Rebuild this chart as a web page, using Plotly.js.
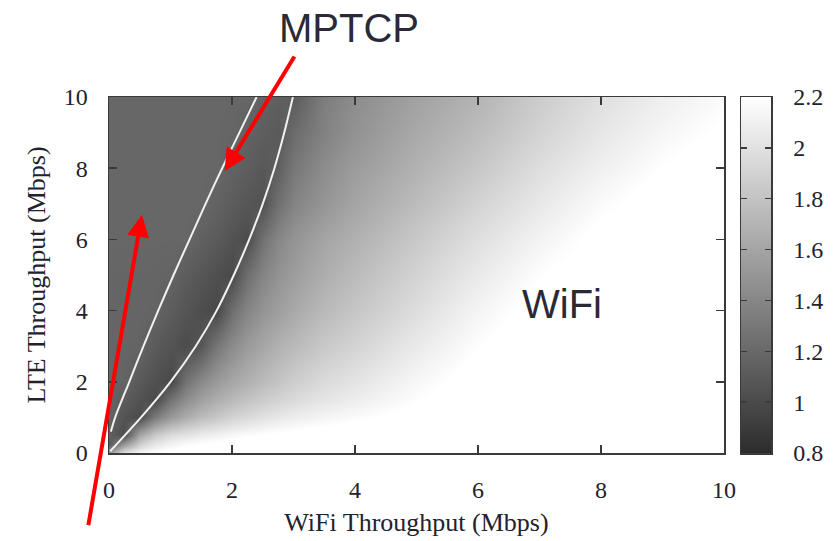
<!DOCTYPE html>
<html>
<head>
<meta charset="utf-8">
<script src="https://cdn.plot.ly/plotly-3.0.1.min.js"></script>
<style>html,body{margin:0;padding:0;background:#fff}</style>
</head>
<body>
<div id="chart" style="width:837px;height:541px"></div>
<script>
// Sample grid: WiFi throughput (columns) and LTE throughput (rows), Mbps
const wifi = [0, 0.25, 0.5, 0.75, 1, 1.25, 1.5, 1.75, 2, 2.25, 2.5, 2.75, 3, 3.5, 4, 5, 6, 7, 8, 9, 10];
const lte  = [0, 0.25, 0.5, 1, 1.5, 2, 3, 4, 5, 6, 7, 8, 9, 10];

// Normalised value at each (wifi, lte) sample, one row per LTE value
const row00  = [1.50, 2.00, 2.15, 2.20, 2.25, 2.27, 2.28, 2.29, 2.30, 2.30, 2.30, 2.30, 2.30, 2.30, 2.30, 2.30, 2.30, 2.30, 2.30, 2.30, 2.30];
const row025 = [1.10, 1.50, 1.88, 2.04, 2.12, 2.17, 2.20, 2.22, 2.24, 2.25, 2.26, 2.27, 2.28, 2.29, 2.30, 2.30, 2.30, 2.30, 2.30, 2.30, 2.30];
const row05  = [1.14, 1.02, 1.62, 1.84, 1.97, 2.02, 2.07, 2.11, 2.15, 2.18, 2.20, 2.22, 2.24, 2.26, 2.28, 2.30, 2.30, 2.30, 2.30, 2.30, 2.30];
const row1   = [1.17, 1.06, 1.00, 1.32, 1.52, 1.65, 1.75, 1.83, 1.90, 1.95, 2.00, 2.04, 2.08, 2.13, 2.17, 2.25, 2.30, 2.30, 2.30, 2.30, 2.30];
const row15  = [1.18, 1.12, 1.05, 0.99, 1.28, 1.45, 1.57, 1.66, 1.74, 1.80, 1.86, 1.91, 1.96, 2.03, 2.08, 2.19, 2.27, 2.30, 2.30, 2.30, 2.30];
const row2   = [1.18, 1.17, 1.10, 1.04, 0.99, 1.27, 1.42, 1.53, 1.61, 1.68, 1.75, 1.81, 1.87, 1.96, 2.02, 2.15, 2.25, 2.30, 2.30, 2.30, 2.30];
const row3   = [1.18, 1.18, 1.17, 1.11, 1.06, 1.01, 1.08, 1.30, 1.43, 1.53, 1.61, 1.68, 1.74, 1.84, 1.91, 2.06, 2.19, 2.28, 2.30, 2.30, 2.30];
const row4   = [1.18, 1.18, 1.18, 1.17, 1.12, 1.07, 1.02, 0.99, 1.24, 1.39, 1.49, 1.56, 1.63, 1.74, 1.82, 1.98, 2.13, 2.25, 2.30, 2.30, 2.30];
const row5   = [1.18, 1.18, 1.18, 1.18, 1.17, 1.12, 1.08, 1.03, 0.99, 1.24, 1.39, 1.48, 1.55, 1.66, 1.75, 1.91, 2.06, 2.19, 2.28, 2.30, 2.30];
const row6   = [1.19, 1.19, 1.19, 1.19, 1.19, 1.19, 1.15, 1.11, 1.06, 1.01, 1.26, 1.40, 1.49, 1.60, 1.68, 1.84, 1.99, 2.12, 2.23, 2.30, 2.30];
const row7   = [1.19, 1.19, 1.19, 1.19, 1.19, 1.19, 1.19, 1.16, 1.12, 1.08, 1.05, 1.25, 1.38, 1.50, 1.60, 1.76, 1.91, 2.05, 2.17, 2.26, 2.30];
const row8   = [1.19, 1.19, 1.19, 1.19, 1.19, 1.19, 1.19, 1.19, 1.16, 1.13, 1.09, 1.14, 1.30, 1.44, 1.54, 1.69, 1.83, 1.98, 2.10, 2.20, 2.27];
const row9   = [1.19, 1.19, 1.19, 1.19, 1.19, 1.19, 1.19, 1.19, 1.18, 1.16, 1.13, 1.10, 1.22, 1.37, 1.48, 1.63, 1.76, 1.91, 2.04, 2.14, 2.22];
const row10  = [1.19, 1.19, 1.19, 1.19, 1.19, 1.19, 1.19, 1.19, 1.19, 1.18, 1.16, 1.14, 1.12, 1.34, 1.44, 1.58, 1.70, 1.86, 1.99, 2.09, 2.17];

// Boundaries of the MPTCP region
const innerEdgeWifi = [0.03, 0.10, 0.33, 0.56, 0.80, 1.05, 1.31, 1.57, 1.84, 2.12, 2.40];
const innerEdgeLte  = [0.60, 1, 2, 3, 4, 5, 6, 7, 8, 9, 10];
const outerEdgeWifi = [0.02, 0.52, 1.00, 1.41, 1.75, 2.03, 2.28, 2.50, 2.69, 2.85, 2.99];
const outerEdgeLte  = [0.05, 1, 2, 3, 4, 5, 6, 7, 8, 9, 10];

// Scale bar end values
const scaleLevels = [0.8, 2.2];

const z = [row00, row025, row05, row1, row15, row2, row3, row4, row5, row6, row7, row8, row9, row10];
const grays = [[0, 'rgb(44,44,44)'], [1, 'rgb(255,255,255)']];

const serif = 'Liberation Serif, Times New Roman, serif';
const sans = 'Liberation Sans, Arial, sans-serif';
const inkDark = '#22222c';
const frame = '#3a3a3a';

const traces = [
  {
    type: 'heatmap', x: wifi, y: lte, z: z,
    zmin: scaleLevels[0], zmax: scaleLevels[1],
    colorscale: grays, zsmooth: 'best', showscale: false, hoverinfo: 'skip'
  },
  {
    type: 'scatter', mode: 'lines', x: innerEdgeWifi, y: innerEdgeLte,
    line: {color: 'rgb(242,242,242)', width: 2, shape: 'spline', smoothing: 0.8}, hoverinfo: 'skip'
  },
  {
    type: 'scatter', mode: 'lines', x: outerEdgeWifi, y: outerEdgeLte,
    line: {color: 'rgb(242,242,242)', width: 2, shape: 'spline', smoothing: 0.8}, hoverinfo: 'skip'
  },
  {
    // gray scale bar
    type: 'heatmap', x: [0, 1], y: scaleLevels, z: scaleLevels.map(v => [v, v]),
    zmin: scaleLevels[0], zmax: scaleLevels[1],
    colorscale: grays, zsmooth: 'best', showscale: false, hoverinfo: 'skip',
    xaxis: 'x2', yaxis: 'y2'
  }
];

const axisCommon = {
  ticks: 'inside', ticklen: 8, tickwidth: 1.5, tickcolor: frame,
  showline: true, linecolor: frame, linewidth: 1.5, mirror: 'ticks',
  showgrid: false, zeroline: false, fixedrange: true,
  tickfont: {family: serif, size: 24, color: inkDark}
};

const layout = {
  width: 837, height: 541,
  margin: {l: 0, r: 0, t: 0, b: 0},
  paper_bgcolor: '#fff', plot_bgcolor: '#fff',
  showlegend: false,
  xaxis: Object.assign({}, axisCommon, {
    domain: [109 / 837, 724 / 837], range: [0, 10], dtick: 2, tick0: 0,
    ticklabelstandoff: 15,
    title: {text: 'WiFi Throughput (Mbps)', font: {family: serif, size: 26, color: inkDark}, standoff: 10}
  }),
  yaxis: Object.assign({}, axisCommon, {
    domain: [88 / 541, 444 / 541], range: [0, 10], dtick: 2, tick0: 0,
    ticklabelstandoff: 15,
    title: {text: 'LTE Throughput (Mbps)', font: {family: serif, size: 26, color: inkDark}, standoff: 10}
  }),
  xaxis2: {
    domain: [741 / 837, 771 / 837], anchor: 'y2', range: [0, 1],
    showticklabels: false, ticks: '', showline: true, linecolor: frame, linewidth: 1.5,
    mirror: true, showgrid: false, zeroline: false, fixedrange: true
  },
  yaxis2: Object.assign({}, axisCommon, {
    domain: [88 / 541, 444 / 541], anchor: 'x2', side: 'right',
    range: scaleLevels, dtick: 0.2, tick0: 0.8, ticklen: 6,
    ticklabelstandoff: 16
  }),
  annotations: [
    {
      xref: 'paper', yref: 'paper', x: 348.5 / 837, y: 513 / 541,
      xanchor: 'center', yanchor: 'middle', showarrow: false,
      text: 'MPTCP', font: {family: sans, size: 40, color: '#2a2a36'}
    },
    {
      xref: 'x', yref: 'y', x: 7.37, y: 4.19,
      xanchor: 'center', yanchor: 'middle', showarrow: false,
      text: 'WiFi', font: {family: sans, size: 40, color: '#2a2a36'}
    },
    {
      xref: 'x', yref: 'y', x: 1.88, y: 7.92,
      axref: 'x', ayref: 'y', ax: 3.03, ay: 11.18,
      text: '', showarrow: true, arrowhead: 2, arrowsize: 1.1, arrowwidth: 4,
      arrowcolor: '#ff0000', standoff: 0, startstandoff: 0
    },
    {
      xref: 'x', yref: 'y', x: 0.535, y: 6.69,
      axref: 'x', ayref: 'y', ax: -0.34, ay: -2.07,
      text: '', showarrow: true, arrowhead: 2, arrowsize: 1.1, arrowwidth: 4,
      arrowcolor: '#ff0000', standoff: 0, startstandoff: 0
    }
  ]
};

Plotly.newPlot('chart', traces, layout, {displayModeBar: false, staticPlot: true});
</script>
</body>
</html>
